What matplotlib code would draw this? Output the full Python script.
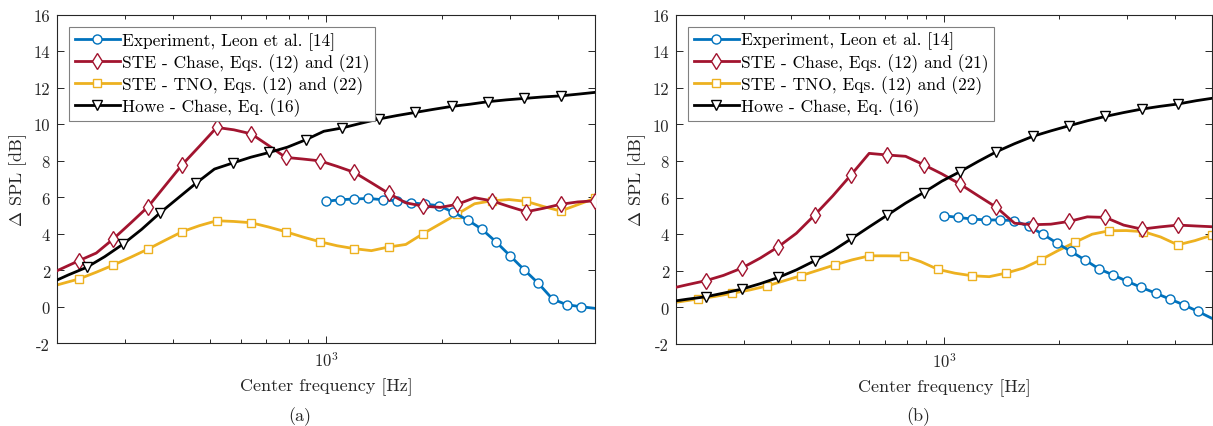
import matplotlib
matplotlib.use("Agg")
import matplotlib.pyplot as plt
from matplotlib.ticker import FixedLocator, NullFormatter

plt.rcParams['font.family'] = 'serif'
plt.rcParams['font.serif'] = ['cmr10']
plt.rcParams['mathtext.fontset'] = 'cm'
plt.rcParams['axes.formatter.use_mathtext'] = True
plt.rcParams['axes.unicode_minus'] = False

# frequency grids [Hz]
freq_a = [200, 228, 253, 280, 311, 345, 382, 423, 469, 520, 576, 639, 708, 785, 870, 964,
          1068, 1184, 1312, 1454, 1612, 1787, 1981, 2195, 2433, 2697, 2989, 3313, 3672, 4070, 4511, 5000]
freq_b = [200, 214, 239, 266, 297, 332, 370, 412, 460, 513, 572, 638, 712, 794, 885, 987,
          1101, 1228, 1370, 1528, 1704, 1900, 2119, 2364, 2636, 2940, 3279, 3657, 4079, 4550, 5000]
freq_exp = [1000, 1088, 1185, 1289, 1403, 1527, 1662, 1809, 1969, 2143, 2333, 2539, 2763, 3008,
            3274, 3563, 3878, 4221, 4594, 5000]

# panel (a)
exp_a = [5.78, 5.87, 5.91, 5.94, 5.87, 5.81, 5.70, 5.63, 5.54, 5.18, 4.76, 4.26, 3.57, 2.80,
         2.03, 1.29, 0.43, 0.12, 0.01, -0.08]
chase_a = [1.98, 2.53, 2.95, 3.72, 4.60, 5.49, 6.64, 7.79, 8.80, 9.83, 9.70, 9.48, 8.85, 8.19, 8.10, 8.00,
           7.70, 7.37, 6.80, 6.22, 5.70, 5.52, 5.45, 5.62, 5.98, 5.81, 5.50, 5.21, 5.40, 5.62, 5.75, 5.81]
tno_a = [1.20, 1.53, 1.90, 2.29, 2.72, 3.17, 3.65, 4.12, 4.45, 4.72, 4.68, 4.61, 4.38, 4.12, 3.83, 3.57,
         3.35, 3.19, 3.08, 3.28, 3.42, 4.01, 4.55, 5.09, 5.65, 5.81, 5.88, 5.78, 5.50, 5.25, 5.60, 5.95]
howe_a = [1.47, 1.75, 2.17, 2.75, 3.44, 4.25, 5.14, 5.95, 6.78, 7.55, 7.88, 8.20, 8.46, 8.75, 9.15, 9.62,
          9.80, 10.05, 10.29, 10.48, 10.65, 10.82, 10.98, 11.10, 11.24, 11.34, 11.42, 11.50, 11.56, 11.66, 11.75]

# panel (b)
exp_b = [5.01, 4.92, 4.83, 4.78, 4.78, 4.74, 4.43, 4.01, 3.52, 3.06, 2.59, 2.10, 1.77, 1.42,
         1.09, 0.78, 0.46, 0.14, -0.22, -0.60]
chase_b = [1.10, 1.24, 1.46, 1.75, 2.15, 2.70, 3.32, 4.05, 5.05, 6.10, 7.24, 8.42, 8.33, 8.26, 7.80, 7.30,
           6.74, 6.10, 5.47, 4.60, 4.52, 4.55, 4.70, 4.95, 4.92, 4.50, 4.28, 4.40, 4.50, 4.45, 4.41]
tno_b = [0.28, 0.46, 0.60, 0.77, 0.95, 1.17, 1.45, 1.73, 2.03, 2.33, 2.60, 2.82, 2.82, 2.81, 2.50, 2.08,
         1.87, 1.73, 1.68, 1.88, 2.15, 2.60, 3.10, 3.56, 4.00, 4.19, 4.20, 4.14, 3.85, 3.42, 3.65, 3.95]
howe_b = [0.36, 0.45, 0.58, 0.78, 1.00, 1.30, 1.64, 2.05, 2.55, 3.10, 3.74, 4.40, 5.05, 5.70, 6.28, 6.90,
          7.42, 7.98, 8.51, 8.95, 9.35, 9.65, 9.93, 10.20, 10.44, 10.65, 10.84, 10.99, 11.12, 11.30, 11.43]

labels = ["Experiment, Leon et al. [14]",
          "STE - Chase, Eqs. (12) and (21)",
          "STE - TNO, Eqs. (12) and (22)",
          "Howe - Chase, Eq. (16)"]
yticks = [-2, 0, 2, 4, 6, 8, 10, 12, 14, 16]

BLUE = '#0072BD'
RED = '#A2142F'
YELLOW = '#EDB120'
AXC = '#262626'


def panel(ax, exp, chase, tno, howe, chase_grid, chase_every):
    ax.plot(freq_exp, exp, '-o', color=BLUE, lw=2.0, ms=6.5, mfc='white', mew=1.0,
            markevery=slice(0, 19), label=labels[0], zorder=3)
    ax.plot(chase_grid, chase, '-d', color=RED, lw=2.0, ms=8, mfc='white', mew=1.0,
            markevery=chase_every, label=labels[1], zorder=4)
    ax.plot(freq_a, tno, '-s', color=YELLOW, lw=2.0, ms=5.5, mfc='white', mew=1.0,
            markevery=slice(1, None, 2), label=labels[2], zorder=2)
    ax.plot(freq_b, howe, '-v', color='black', lw=2.0, ms=7.5, mfc='white', mew=1.0,
            markevery=slice(2, 29, 2), label=labels[3], zorder=5)
    ax.set_xscale('log')
    ax.set_xlim(200, 5000)
    ax.set_ylim(-2, 16)
    ax.set_yticks(yticks)
    ax.set_yticklabels([str(v) for v in yticks])
    ax.xaxis.set_major_locator(FixedLocator([1000]))
    ax.xaxis.set_minor_locator(FixedLocator([300, 400, 500, 600, 700, 800, 900, 2000, 3000, 4000]))
    ax.xaxis.set_minor_formatter(NullFormatter())
    ax.tick_params(which='both', direction='in', top=True, right=True, colors=AXC,
                   labelsize=12, width=0.7)
    ax.tick_params(which='major', length=5, pad=5)
    ax.tick_params(which='minor', length=3)
    for s in ax.spines.values():
        s.set_color(AXC)
        s.set_linewidth(0.8)
    ax.set_xlabel('Center frequency [Hz]', fontsize=13, color=AXC, labelpad=6)
    ax.set_ylabel(r'$\Delta$ SPL [dB]', fontsize=13, color=AXC, labelpad=3)
    leg = ax.legend(loc='upper left', bbox_to_anchor=(0.023, 0.964), borderaxespad=0,
                    fontsize=12.5, handlelength=2.6, handletextpad=0.15, labelspacing=0.2,
                    borderpad=0.3, fancybox=False, framealpha=1)
    leg.get_frame().set_edgecolor('#808080')
    leg.get_frame().set_linewidth(0.8)


fig = plt.figure(figsize=(12.13, 4.27), dpi=100)
ax1 = fig.add_axes([57 / 1213, 1 - 344.4 / 427, 538 / 1213, 328.6 / 427])
ax2 = fig.add_axes([676 / 1213, 1 - 345 / 427, 536 / 1213, 329.3 / 427])

panel(ax1, exp_a, chase_a, tno_a, howe_a, freq_a, slice(1, None, 2))
panel(ax2, exp_b, chase_b, tno_b, howe_b, freq_b, slice(2, 29, 2))

fig.text(300 / 1213, 1 - 417 / 427, '(a)', ha='center', va='center', fontsize=13, color=AXC)
fig.text(918 / 1213, 1 - 417 / 427, '(b)', ha='center', va='center', fontsize=13, color=AXC)

fig.savefig('out.png', dpi=100)
